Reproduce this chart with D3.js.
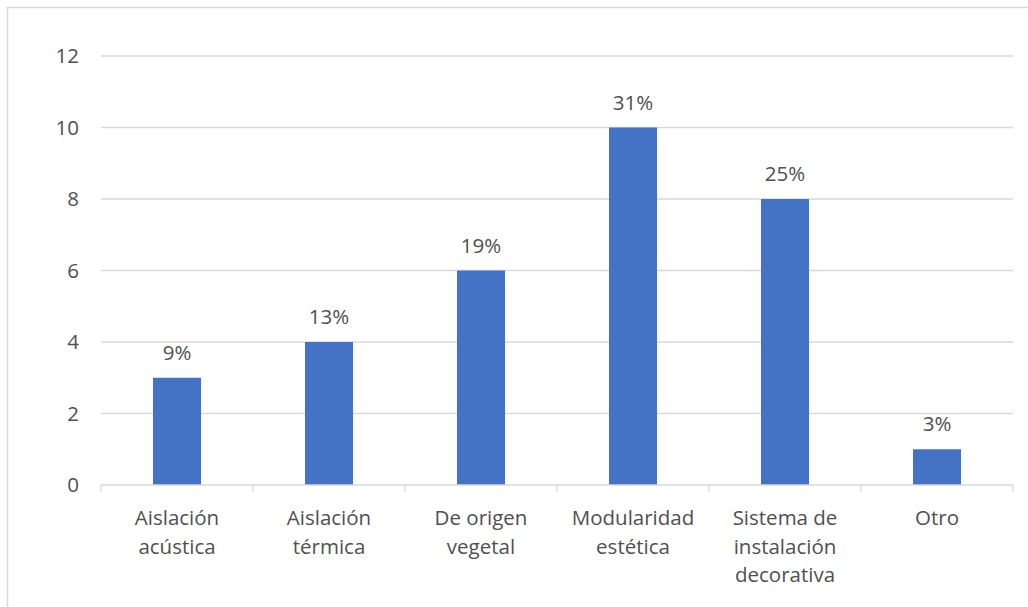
<!DOCTYPE html>
<html>
<head>
<meta charset="utf-8">
<script src="https://cdn.jsdelivr.net/npm/d3@7"></script>
<style>
  body { margin: 0; background: #fff; }
  text { font-family: "Open Sans", "Noto Sans", sans-serif; fill: #505050; }
</style>
</head>
<body>
<div id="chart"></div>
<script>
// chart data
const categories = [
    ["Aislación", "acústica"],
    ["Aislación", "térmica"],
    ["De origen", "vegetal"],
    ["Modularidad", "estética"],
    ["Sistema de", "instalación", "decorativa"],
    ["Otro"]
];
const counts = [3, 4, 6, 10, 8, 1];
const percentLabels = ["9%", "13%", "19%", "31%", "25%", "3%"];
const yTicks = [0, 2, 4, 6, 8, 10, 12];

const W = 1028, H = 607;
const margin = { top: 56, right: 15, bottom: 122, left: 101 };
const width = W - margin.left - margin.right,
    height = H - margin.top - margin.bottom;
const fontSize = "20.5px";

const svg = d3.select("#chart").append("svg")
    .attr("width", W)
    .attr("height", H);

// chart border (only left and top visible in the frame)
svg.append("rect")
    .attr("x", 7.5).attr("y", 7.5)
    .attr("width", W + 10).attr("height", H + 10)
    .attr("fill", "none")
    .attr("stroke", "#d9d9d9")
    .attr("stroke-width", 1.5);

const g = svg.append("g")
    .attr("transform", "translate(" + margin.left + "," + margin.top + ")");

const idx = d3.range(categories.length);

const x = d3.scaleBand()
    .domain(idx)
    .range([0, width])
    .paddingInner(0.684)
    .paddingOuter(0.342);

const y = d3.scaleLinear()
    .domain([0, 12])
    .range([height, 0]);

// gridlines
g.selectAll(".grid")
    .data(yTicks.slice(1))
    .enter().append("line")
    .attr("x1", 0).attr("x2", width)
    .attr("y1", d => y(d)).attr("y2", d => y(d))
    .attr("stroke", "#d9d9d9")
    .attr("stroke-width", 1.3);

// y tick labels
g.selectAll(".ylab")
    .data(yTicks)
    .enter().append("text")
    .attr("x", -22)
    .attr("y", d => y(d))
    .attr("dy", "0.36em")
    .attr("text-anchor", "end")
    .style("font-size", fontSize)
    .text(d => d);

// bars
g.selectAll(".bar")
    .data(counts)
    .enter().append("rect")
    .attr("x", (d, i) => x(i))
    .attr("y", d => y(d))
    .attr("width", x.bandwidth())
    .attr("height", d => height - y(d))
    .attr("fill", "#4472c4");

// data labels
g.selectAll(".dlab")
    .data(counts)
    .enter().append("text")
    .attr("x", (d, i) => x(i) + x.bandwidth() / 2)
    .attr("y", d => y(d) - 18)
    .attr("text-anchor", "middle")
    .style("font-size", fontSize)
    .text((d, i) => percentLabels[i]);

// x axis line and ticks
g.append("line")
    .attr("x1", 0).attr("x2", width)
    .attr("y1", height).attr("y2", height)
    .attr("stroke", "#d9d9d9")
    .attr("stroke-width", 1.3);

const step = x.step();
g.selectAll(".xtick")
    .data(d3.range(categories.length + 1))
    .enter().append("line")
    .attr("x1", d => d * step).attr("x2", d => d * step)
    .attr("y1", height).attr("y2", height + 7)
    .attr("stroke", "#d9d9d9")
    .attr("stroke-width", 1.3);

// category labels
const cl = g.selectAll(".xlab")
    .data(categories)
    .enter().append("text")
    .attr("text-anchor", "middle")
    .attr("transform", (d, i) => "translate(" + (x(i) + x.bandwidth() / 2) + "," + (height + 40) + ")")
    .style("font-size", fontSize);

cl.selectAll("tspan")
    .data(d => d)
    .enter().append("tspan")
    .attr("x", 0)
    .attr("y", (d, i) => i * 28.5)
    .text(d => d);
</script>
</body>
</html>
